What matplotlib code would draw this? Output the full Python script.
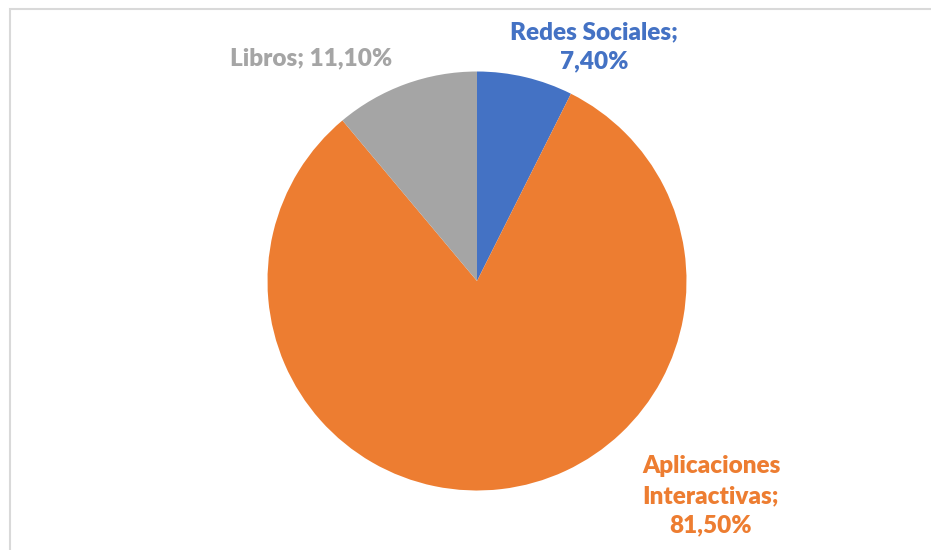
import matplotlib
matplotlib.use("Agg")
import matplotlib.pyplot as plt
from matplotlib.patches import Rectangle

categories = ["Redes Sociales", "Aplicaciones Interactivas", "Libros"]
values = [7.40, 81.50, 11.10]
label_texts = ["Redes Sociales;\n7,40%", "Aplicaciones\nInteractivas;\n81,50%", "Libros; 11,10%"]
colors = ["#4472C4", "#ED7D31", "#A5A5A5"]

W, H = 931, 550
fig = plt.figure(figsize=(W / 100, H / 100), dpi=100)
fig.patch.set_facecolor("white")

# chart frame
fig.add_artist(Rectangle((9.5 / W, -0.1), 1.2, (H - 8.5) / H + 0.1,
                         transform=fig.transFigure, fill=False,
                         edgecolor="#D9D9D9", linewidth=1.5))

cx, cy, r = 477, 281, 209.5
ax = fig.add_axes([(cx - r) / W, (H - cy - r) / H, 2 * r / W, 2 * r / H])
ax.pie(values, colors=colors, startangle=90, counterclock=False,
       wedgeprops=dict(linewidth=0), radius=1)
ax.set_xlim(-1, 1)
ax.set_ylim(-1, 1)
ax.set_aspect("equal")
ax.axis("off")

# label placement in pixel coordinates (layout)
label_pos = [(594, 47), (711, 496), (311, 58)]
for txt, col, (px, py) in zip(label_texts, colors, label_pos):
    fig.text(px / W, 1 - py / H, txt, color=col, fontsize=17.5,
             fontweight="heavy", family=["Lato", "DejaVu Sans"],
             ha="center", va="center", linespacing=1.42)

fig.savefig("out.png", dpi=100)
